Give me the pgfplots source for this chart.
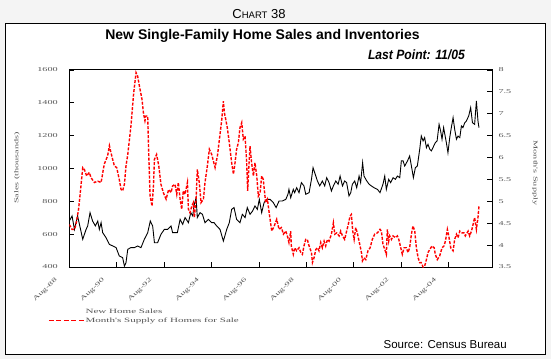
\documentclass[border=0pt]{standalone}
\usepackage{pgfplots}
\pgfplotsset{compat=1.18}
\usepackage{fontspec}
\setmainfont{Liberation Sans}
\newfontfamily\widefont[FakeStretch=1.7]{Liberation Serif}
\newfontfamily\condfont[FakeStretch=0.9]{Liberation Sans}
\definecolor{bgray}{RGB}{244,244,244}
\definecolor{tgray}{RGB}{85,85,85}
\definecolor{sred}{RGB}{255,0,0}
\pgfplotsset{longleg/.style={legend image code/.code={\draw[##1, dash pattern=on 5pt off 2.5pt] (0pt,0pt) -- (35pt,0pt);}}}
\pgfplotstableread{
m s
0 680
1.4 711
2.6 629
4.2 711
6.8 569
8.5 629
9.3 650
10.5 731
11.8 680
13.2 650
14.4 680
15.2 629
16.1 670
16.9 609
18.6 579
20.3 538
22 528
23.7 518
25.3 467
27 457
27.9 406
28.7 426
29.6 508
31.2 518
32.9 518
34.6 528
36.3 518
38 569
39.7 609
41 680
42.2 650
43.1 548
44.7 548
46.4 599
48.1 629
49.8 629
51.5 650
52.3 609
54.7 609
56.1 690
57.4 660
58.6 701
60.3 670
61.5 731
62.5 711
63.1 772
64.2 822
64.8 701
66.2 731
67.4 721
68.7 670
70.4 690
72.1 670
73.3 670
74.6 650
76.3 629
78 558
79.7 629
81 670
82.2 751
83.4 762
84.7 690
86.4 670
87.6 721
89 701
90.1 762
91.5 721
92.8 741
94 772
95.2 751
96.2 812
97.4 731
98.6 792
99.9 812
101.6 812
103.3 792
104.7 762
106.2 802
107.9 802
109.6 812
110.7 843
111.2 873
112.1 822
113.4 873
114.1 853
115.1 883
116.3 853
117.5 914
118.8 894
119.7 843
121.4 853
122.6 934
123.4 1005
124.8 954
125.6 924
126.8 894
128.1 924
129.3 894
130.3 944
131.5 914
132.7 863
133.7 894
134.9 924
136.1 904
137.1 954
138.3 894
139.4 924
140.4 914
141.6 833
142.5 853
143.3 904
144.5 924
145.5 883
146.7 954
147.5 914
148.5 1036
149.2 954
150.6 924
151.8 904
152.9 894
154.3 883
156 873
157.3 853
158.8 904
159.7 954
160.5 873
161.7 934
162.7 914
163.9 944
165.1 934
166.1 954
167.3 944
168.1 1046
169 1046
169.8 1015
171.2 1046
172.3 1076
173.2 1015
174.2 944
175.2 1005
176.2 1015
177.4 1117
178.2 1198
179.1 1168
179.9 1188
180.8 1127
181.6 1147
182.5 1117
183.3 1107
184.1 1127
185.3 1157
186.2 1168
187.2 1269
188 1228
188.7 1178
189.5 1249
190.9 1157
191.7 1096
192.6 1188
193.4 1249
194.3 1310
195.1 1239
196 1178
196.8 1198
197.7 1188
198.5 1259
199.3 1249
200.2 1279
201 1289
202.2 1320
203.2 1371
204.1 1279
205.2 1269
206.1 1411
206.9 1289
207.4 1249
}\sales
\pgfplotstableread{
m r
0 4.47
1.4 4.36
2.6 4.36
3.4 4.47
4.7 4.82
5.9 5.35
6.8 5.77
7.6 5.73
8.8 5.58
10.1 5.66
11 5.54
12.7 5.43
14.4 5.46
16.1 5.43
17.7 5.85
19.4 6.04
20.3 6.27
21.1 6.11
22.8 5.81
24 5.77
25.3 5.5
26.2 5.27
27 5.24
27.9 5.39
28.7 5.81
29.6 6.07
31.2 6.72
32.6 7.48
33.8 7.94
34.6 7.86
35.5 7.63
36.8 7.33
37.5 7.03
38.3 6.84
38.8 6.95
39.7 6.95
40.2 6.11
40.9 5.12
41.9 4.89
42.6 5.35
43.1 5.96
44.2 6.07
45.3 5.81
46.4 5.39
47.6 5.2
49 5.05
50.3 5.27
51.5 5.2
52.3 5.35
53.5 5.39
54.4 5.16
55.2 5.43
56.1 5.05
56.9 4.82
57.7 5.24
58.6 5.16
59.8 5.43
60.3 4.82
61.1 4.74
62 4.89
62.8 4.97
63.3 4.63
64.2 5.05
64.8 5.73
65.8 5.43
66.7 4.97
67.9 5.05
68.7 5.43
69.9 5.81
70.9 6.19
72.1 6.07
73.8 5.77
75 6.04
76 6.42
77.2 6.87
78 7.29
78.5 7.03
79.2 6.87
80 6.68
81 6.34
82.2 5.88
83.1 5.62
83.9 5.88
84.7 6.19
85.6 6.34
86.4 6.68
87.3 6.8
88.1 6.42
89 6.49
89.8 5.88
90.3 5.24
91 5.88
91.5 6.26
92.3 5.88
93.2 5.58
94 5.88
94.9 5.58
95.7 5.12
96.6 5.2
97.4 5.58
98.2 5.5
99.4 4.97
100.3 5.05
101.3 4.7
102.5 4.32
103.7 4.43
105 4.59
106.2 4.36
107.4 4.4
108.4 4.25
109.6 4.32
110.4 4.21
111.2 4.06
112.1 4.32
112.4 3.98
113.4 3.79
114.1 3.94
115.1 3.87
116.3 3.94
117.2 3.83
118 3.79
118.8 3.98
119.7 4.13
120.5 4.13
121.4 3.98
122.6 3.83
123.1 3.6
123.9 3.71
124.8 3.9
125.6 3.94
126.4 3.87
127.3 4.06
128.1 3.94
129 4.09
129.8 3.98
130.7 4.13
131.5 4.09
132.7 4.25
133.7 4.51
134.4 4.25
135.4 4.28
136.6 4.21
137.4 4.32
138.3 4.21
139.4 4.13
140.4 4.32
141.1 4.44
142.1 4.66
142.8 4.7
143.5 4.32
144.2 4.13
145 4.4
145.8 4.28
146.7 4.09
147.9 3.83
148.4 3.64
149.2 3.71
150.1 3.67
151.2 3.87
152.3 3.94
153.4 4.13
154.6 4.25
156 4.28
157.3 4.36
158 4.32
158.8 4.02
159.7 3.9
160.5 3.79
161 4.36
161.7 4.09
162.2 4.21
163.1 4.13
163.9 4.21
165.1 4.17
166.1 4.21
166.8 4.13
167.8 3.94
168.6 3.79
169.5 3.94
170.6 3.94
171.5 3.83
172.3 3.94
173.2 4.25
174 4.44
174.9 4.32
175.7 3.94
176.6 3.71
177.4 3.6
178.2 3.6
179.1 3.5
179.9 3.52
180.8 3.67
181.6 3.83
182.5 3.9
183.6 3.98
184.7 3.94
185.3 3.79
186.3 3.67
187.5 3.75
188.7 3.94
189.7 3.98
190.4 4.09
191.4 4.36
192.1 4.21
193.1 3.94
194.3 3.87
195.1 4.13
196 4.25
196.8 4.17
197.7 4.32
198.8 4.28
199.8 4.28
200.5 4.21
201.9 4.32
202.7 4.21
203.6 4.32
204.4 4.47
205.2 4.63
206.1 4.36
206.9 4.63
207.4 4.89
}\supply
\begin{document}
\begin{tikzpicture}[x=1pt,y=1pt]
\fill[bgray] (0,0) rectangle (551,359);
\draw[fill=white, line width=0.8pt] (5,5) rectangle (545,336);
\node[anchor=base] at (259,340) {\fontsize{13}{14}\selectfont C{\fontsize{9.5}{10}\selectfont HART} 38};
\node[anchor=base] at (262.5,319) {\bfseries\fontsize{14}{16}\selectfont New Single-Family Home Sales and Inventories};
\node[anchor=base east, inner sep=0pt] at (465,299) {\condfont\bfseries\itshape\fontsize{13.5}{15}\selectfont Last Point: 11/05};
\node[rotate=90, text=tgray] at (17,191) {\widefont\fontsize{6}{7}\selectfont Sales (thousands)};
\node[rotate=-90, text=tgray] at (535,186) {\widefont\fontsize{6}{7}\selectfont Month's Supply};
\node[anchor=base east, inner sep=0pt] at (507,11) {\fontsize{11.5}{13}\selectfont Source: Census Bureau};
\begin{axis}[
  at={(69.3pt,92pt)}, anchor=south west, scale only axis,
  width=422.7pt, height=197pt,
  xmin=0, xmax=214, ymin=400, ymax=1600,
  axis line style={line width=1pt},
  tick align=inside, tick pos=left,
  major tick length=5pt,
  tick style={line width=0.8pt, black},
  xtick={0,24,...,192},
  xticklabels={Aug-88,Aug-90,Aug-92,Aug-94,Aug-96,Aug-98,Aug-00,Aug-02,Aug-04},
  ytick={400,600,...,1600},
  yticklabels={400,600,800,1000,1200,1400,1600},
  yticklabel style={font=\widefont\fontsize{6}{7}\selectfont, text=tgray, xshift=-8pt},
  xticklabel style={font=\widefont\fontsize{6}{7}\selectfont, text=tgray, xshift=-15pt, yshift=-5pt, rotate=45, anchor=north east},
]
\addplot[black, line width=0.9pt] table[x=m,y=s] {\sales};
\end{axis}
\begin{axis}[
  at={(69.3pt,92pt)}, anchor=south west, scale only axis,
  width=422.7pt, height=197pt,
  xmin=0, xmax=214, ymin=3.5, ymax=8,
  hide x axis,
  axis y line*=right,
  axis line style={line width=1pt, -},
  tick align=inside,
  major tick length=5pt,
  tick style={line width=0.8pt, black},
  ytick={3.5,4,...,8},
  yticklabels={3.5,4,4.5,5,5.5,6,6.5,7,7.5,8},
  yticklabel style={font=\widefont\fontsize{6}{7}\selectfont, text=tgray, anchor=west, xshift=3pt},
  legend style={at={(axis description cs:-0.0504,-0.205)}, anchor=north west, draw=none, fill=none,
    font=\widefont\fontsize{6.5}{7}\selectfont, text=tgray, row sep=1pt, inner sep=0pt,
    nodes={inner sep=1pt}},
  legend cell align=left,
]
\addlegendimage{empty legend}
\addlegendentry{New Home Sales}
\addplot[sred, line width=1.4pt, dash pattern=on 3pt off 1.5pt, longleg] table[x=m,y=r] {\supply};
\addlegendentry{Month's Supply of Homes for Sale}
\end{axis}
\end{tikzpicture}
\end{document}
